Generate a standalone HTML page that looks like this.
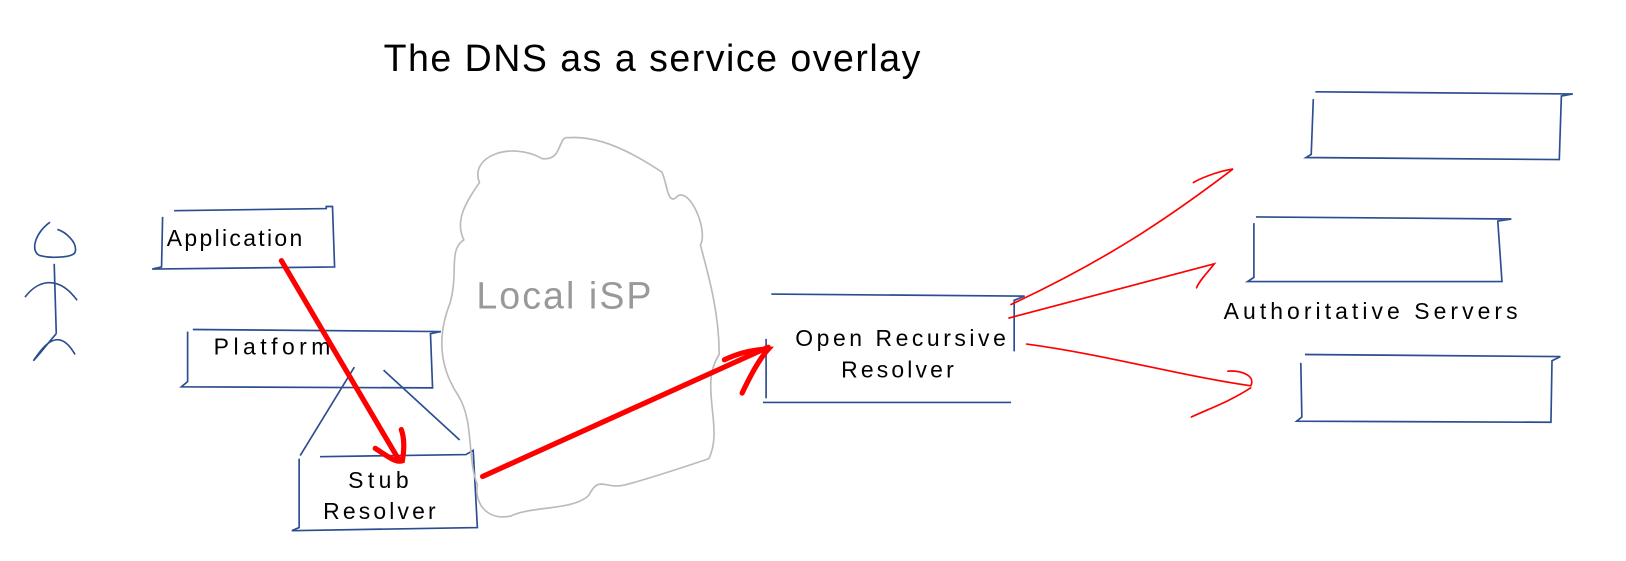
<!DOCTYPE html>
<html><head><style>
html,body{margin:0;padding:0;background:#fff;}
svg{display:block;}
text{font-family:"Liberation Sans",sans-serif;}
</style></head><body>
<svg width="1626" height="561" viewBox="0 0 1560 538" xmlns="http://www.w3.org/2000/svg">
<rect width="1560" height="538" fill="#fff"/>
<text x="368" y="68" font-size="36" fill="#000" textLength="515" lengthAdjust="spacing">The DNS as a service overlay</text>
<g fill="none" stroke="#2c4d8f" stroke-width="1.6">
<path d="M48 213 C35 222 28 240 38 245 C48 248 70 247 72 242 C75 232 62 222 55 220"/>
<path d="M52 253 L54 320"/>
<path d="M24 285 C35 270 55 262 74 288"/>
<path d="M54 320 C45 330 38 340 32 346 C40 335 55 310 72 340"/>
<path d="M156 208 L155 256 L146 258 L321 256 L319 198 L313 198 L313 200 L167 202"/>
<path d="M180 318 L180 366 L174 371 L415 372 L413 320 L423 318 L185 316"/>
<path d="M287 440 L287 506 L280 509 L458 506 L454 432 L447 436 L307 438"/>
<path d="M288 437 L340 352"/>
<path d="M368 355 L441 422"/>
<path d="M740 282 L983 284 L973 288 L973 337"/>
<path d="M735 325 L735 382"/>
<path d="M732 386 L970 386"/>
<path d="M1262 88 L1509 90 L1498 92 L1496 153 L1253 151 L1258 148 L1260 95"/>
<path d="M1205 208 L1450 210 L1437 212 L1441 270 L1197 270 L1203 266 L1203 214"/>
<path d="M1252 340 L1497 342 L1489 346 L1488 405 L1244 404 L1249 400 L1248 348"/>
</g>
<path d="M460 175 C450 150 490 135 520 152 C540 155 535 130 545 132 C575 130 605 145 635 165 C640 175 640 195 648 190 C660 175 680 220 672 235 C680 265 690 300 690 340 C670 370 695 410 680 440 C650 450 620 460 600 465 C580 470 575 455 565 475 C550 490 510 485 490 495 C465 500 455 480 458 465 C448 440 455 405 440 380 C420 350 420 320 432 290 C440 260 430 240 445 230 C435 210 450 190 460 175 Z" fill="none" stroke="#bbb" stroke-width="1.6"/>
<text x="457" y="296" font-size="36" fill="#999" textLength="168" lengthAdjust="spacing">Local iSP</text>
<g font-size="22" fill="#000">
<text x="160" y="236" textLength="130">Application</text>
<text x="205" y="340" textLength="112">Platform</text>
<text x="334" y="468" textLength="58">Stub</text>
<text x="310" y="498" textLength="108">Resolver</text>
<text x="763" y="332" textLength="202">Open Recursive</text>
<text x="807" y="362" textLength="108">Resolver</text>
<text x="1174" y="306" textLength="282">Authoritative Servers</text>
</g>
<g fill="none" stroke="#f00" stroke-linecap="round">
<path d="M270 250 L382 440" stroke-width="5"/>
<path d="M360 430 C372 438 380 444 386 442 C388 432 388 420 385 412" stroke-width="5"/>
<path d="M463 457 L737 333" stroke-width="5"/>
<path d="M712 377 C720 360 728 345 737 335 C725 335 710 338 695 345" stroke-width="5"/>
<path d="M970 292 C1060 250 1120 210 1183 162 C1165 165 1150 172 1145 175" stroke-width="1.6"/>
<path d="M968 305 L1165 253 C1158 262 1150 270 1148 276" stroke-width="1.6"/>
<path d="M985 330 C1060 340 1130 360 1200 370 C1205 360 1190 355 1178 356" stroke-width="1.6"/>
<path d="M1200 372 C1180 385 1160 392 1143 400" stroke-width="1.6"/>
</g>
</svg>
</body></html>
